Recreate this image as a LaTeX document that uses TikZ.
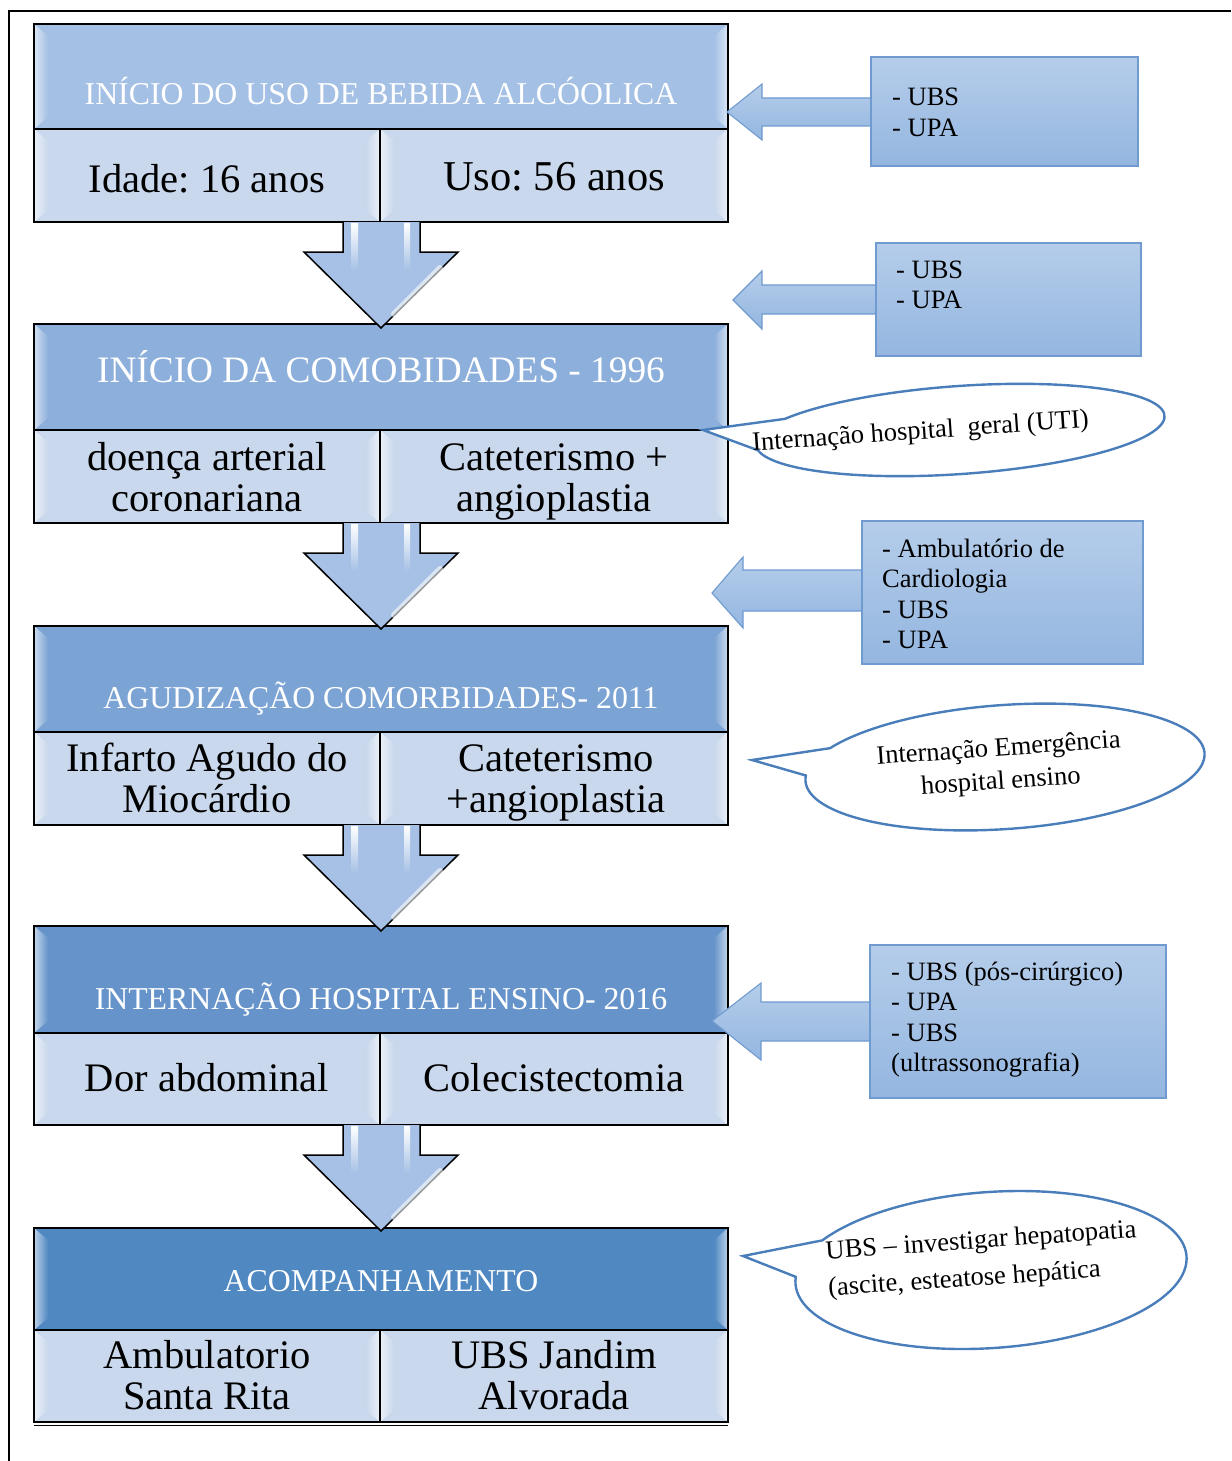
\documentclass[tikz,border=0pt]{standalone}
\usepackage{fontspec}
\setmainfont{Liberation Serif}
\usetikzlibrary{calc}
\frenchspacing

\definecolor{hdA}{HTML}{A4C0E4}
\definecolor{hdB}{HTML}{8DAFDB}
\definecolor{hdC}{HTML}{7BA3D3}
\definecolor{hdD}{HTML}{6694CA}
\definecolor{hdE}{HTML}{5088C2}
\definecolor{subfill}{HTML}{C9D8EC}
\definecolor{arrowfill}{HTML}{A6C1E5}
\definecolor{sidetop}{HTML}{B5CDEA}
\definecolor{sidebot}{HTML}{94B6E0}
\definecolor{sideline}{HTML}{6F9BD0}
\definecolor{bubbleline}{HTML}{4A7EBB}

% bevelled panel: x0 y0 x1 y1 colour
\newcommand\panel[5]{%
  \fill[#5] (#1,#2) rectangle (#3,#4);
  \shade[left color=white!62!#5, right color=#5]
    (#1,#2) -- (#1+14,#2+12) -- (#1+14,#4-12) -- (#1,#4) -- cycle;
  \shade[left color=#5, right color=white!62!#5]
    (#3,#2) -- (#3-14,#2+12) -- (#3-14,#4-12) -- (#3,#4) -- cycle;
  \draw[boxline] (#1,#2) rectangle (#3,#4);
}

% block arrow pointing down from the bottom of a stage (y0)
\newcommand\downblock[1]{%
  \draw[downarrow] (343,#1) -- (343,#1+30) -- (304,#1+30) -- (381,#1+106)
    -- (458,#1+30) -- (420,#1+30) -- (420,#1);
  \shade[top color=white, bottom color=arrowfill] (351,#1+1) rectangle (358,#1+48);
  \shade[top color=white, bottom color=arrowfill] (404,#1+1) rectangle (410,#1+48);
  \draw[white, opacity=.6, line width=6pt, line cap=round] (440,#1+46) -- (394,#1+92);
}

% block arrow pointing left: tip x, tip y, head back x, head top, head bottom, shaft top, shaft bottom, shaft end x
\newcommand\leftblock[8]{%
  \draw[sidefill] (#1,#2) -- (#3,#4) -- (#3,#6) -- (#8,#6) -- (#8,#7)
    -- (#3,#7) -- (#3,#5) -- cycle;
}

\newcommand\stackc[1]{\begin{tabular}[t]{@{}c@{}}#1\end{tabular}}
\newcommand\stackl[1]{\begin{tabular}[t]{@{}l@{}}#1\end{tabular}}

\begin{document}
\begin{tikzpicture}[x=1pt, y=-1pt,
  boxline/.style={draw=black, line width=1.6pt},
  hdtext/.style={text=white, font=\fontsize{31.8}{36}\selectfont, anchor=base, inner sep=0pt},
  subtext/.style={font=\fontsize{40.5}{41}\selectfont, anchor=base, inner sep=0pt},
  sidetext/.style={font=\fontsize{26.5}{30.5}\selectfont, anchor=base west, inner sep=0pt},
  bubtext/.style={font=\fontsize{26.5}{30}\selectfont, inner sep=0pt, rotate=4},
  callout/.style={draw=bubbleline, line width=2.4pt, fill=white, line join=miter},
  sidefill/.style={draw=sideline, line width=1.1pt, top color=sidetop, bottom color=sidebot},
  downarrow/.style={draw=black, line width=1.5pt, fill=arrowfill, line join=miter},
]
\useasboundingbox (0,0) rectangle (1231,1461);

% page frame
\draw[line width=2.3pt] (9,1461) -- (9,11) -- (1231,11);

% stages
\panel{34}{24}{728}{129}{hdA}
\panel{34}{129}{380}{222}{subfill}
\panel{380}{129}{728}{222}{subfill}

\panel{34}{324}{728}{430}{hdB}
\panel{34}{430}{380}{523}{subfill}
\panel{380}{430}{728}{523}{subfill}

\panel{34}{626}{728}{732}{hdC}
\panel{34}{732}{380}{825}{subfill}
\panel{380}{732}{728}{825}{subfill}

\panel{34}{926}{728}{1033}{hdD}
\panel{34}{1033}{380}{1125}{subfill}
\panel{380}{1033}{728}{1125}{subfill}

\panel{34}{1228}{728}{1330}{hdE}
\panel{34}{1330}{380}{1422}{subfill}
\panel{380}{1330}{728}{1422}{subfill}
\draw[line width=1pt] (34,1425.5) -- (728,1425.5);

% arrows between stages
\downblock{222}
\downblock{523}
\downblock{825}
\downblock{1125}

% side arrows and boxes
\leftblock{727}{112}{762}{84}{140}{98}{126}{880}
\draw[sidefill] (871,57) rectangle (1138,166);
\leftblock{733}{300}{762}{271}{329}{285}{314}{885}
\draw[sidefill] (876,243) rectangle (1141,356);
\leftblock{712}{593}{743}{557}{628}{570}{611}{870}
\draw[sidefill] (862,521) rectangle (1143,664);
\leftblock{712}{1021}{761}{983}{1060}{1002}{1041}{878}
\draw[sidefill] (870,945) rectangle (1166,1098);

% speech bubbles
\coordinate (tipA) at (703,430);
\coordinate (tipB) at (752,760);
\coordinate (tipC) at (743,1256);
\begin{scope}[shift={(960,430)}, rotate=4]
  \draw[callout] (212:205 and 44) -- (tipA) -- (172:205 and 44)
    arc[start angle=172, end angle=-148, x radius=205, y radius=44] -- cycle;
\end{scope}
\begin{scope}[shift={(1005,767)}, rotate=4]
  \draw[callout] (210:200 and 62) -- (tipB) -- (185:200 and 62)
    arc[start angle=185, end angle=-150, x radius=200, y radius=62] -- cycle;
\end{scope}
\begin{scope}[shift={(991,1270)}, rotate=4]
  \draw[callout] (212:196 and 78) -- (tipC) -- (185:196 and 78)
    arc[start angle=185, end angle=-148, x radius=196, y radius=78] -- cycle;
\end{scope}

% stage texts
\node[hdtext] (h1) at (381,105) {INÍCIO DO USO DE BEBIDA ALCÓOLICA};
\node[subtext] (s1a) at (207,192) {Idade: 16 anos};
\node[subtext, font=\fontsize{42.5}{43}\selectfont] (s1b) at (554,190) {Uso: 56 anos};

\node[hdtext, font=\fontsize{37.3}{40}\selectfont] (h2) at (381,382) {INÍCIO DA COMOBIDADES - 1996};
\node[subtext] (s2a) at (207,470) {\stackc{doença arterial\\coronariana}};
\node[subtext] (s2b) at (554,470) {\stackc{Cateterismo +\\angioplastia}};

\node[hdtext] (h3) at (381,708) {AGUDIZAÇÃO COMORBIDADES- 2011};
\node[subtext] (s3a) at (207,771) {\stackc{Infarto Agudo do\\Miocárdio}};
\node[subtext] (s3b) at (556,771) {\stackc{Cateterismo\\+angioplastia}};

\node[hdtext] (h4) at (381,1009) {INTERNAÇÃO HOSPITAL ENSINO- 2016};
\node[subtext] (s4a) at (207,1091) {Dor abdominal};
\node[subtext] (s4b) at (554,1091) {Colecistectomia};

\node[hdtext] (h5) at (381,1291) {ACOMPANHAMENTO};
\node[subtext] (s5a) at (207,1368) {\stackc{Ambulatorio\\Santa Rita}};
\node[subtext] (s5b) at (554,1368) {\stackc{UBS Jandim\\Alvorada}};

% side box texts
\node[sidetext] (r1) at (892,106) {\stackl{- UBS\\- UPA}};
\node[sidetext] (r2) at (896,278) {\stackl{- UBS\\- UPA}};
\node[sidetext] (r3) at (882,557) {\stackl{- Ambulatório de\\Cardiologia\\- UBS\\- UPA}};
\node[sidetext] (r4) at (891,980) {\stackl{- UBS (pós-cirúrgico)\\- UPA\\- UBS\\(ultrassonografia)}};

% bubble texts
\node[bubtext, anchor=base] (b1) at (921,439) {Internação hospital\ \ geral (UTI)};
\node[bubtext, anchor=base, font=\fontsize{26.5}{33}\selectfont] (b2) at (999,756)
  {\stackc{Internação Emergência\\hospital ensino}};
\node[bubtext, anchor=base west, font=\fontsize{26.5}{37}\selectfont] (b3) at (826,1259)
  {\stackl{UBS – investigar hepatopatia\\(ascite, esteatose hepática}};
\end{tikzpicture}
\end{document}
